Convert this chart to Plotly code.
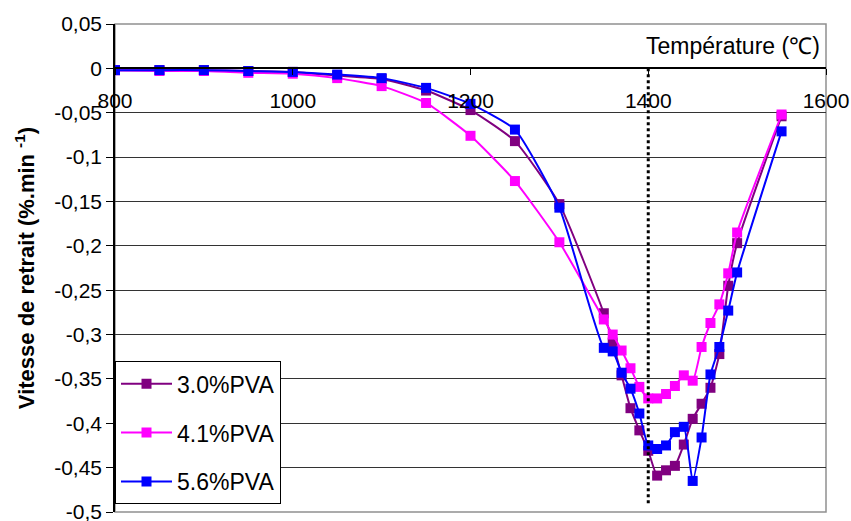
import plotly.graph_objects as go

# temperatures (°C)
temp = [800, 850, 900, 950, 1000, 1050, 1100, 1150, 1200, 1250, 1300,
        1350, 1360, 1370, 1380, 1390, 1400, 1410, 1420, 1430, 1440, 1450,
        1460, 1470, 1480, 1490, 1500, 1550]

# shrinkage rate (%.min-1)
pva_30 = [-0.002, -0.002, -0.002, -0.003, -0.004, -0.008, -0.012, -0.025, -0.047, -0.082, -0.153,
          -0.276, -0.309, -0.346, -0.383, -0.408, -0.431, -0.459, -0.453, -0.448, -0.424, -0.395,
          -0.378, -0.360, -0.322, -0.245, -0.197, -0.054]
pva_41 = [-0.002, -0.003, -0.003, -0.005, -0.006, -0.011, -0.020, -0.039, -0.076, -0.127, -0.196,
          -0.283, -0.300, -0.318, -0.338, -0.359, -0.372, -0.372, -0.367, -0.358, -0.346, -0.352,
          -0.314, -0.287, -0.266, -0.231, -0.185, -0.052]
pva_56 = [-0.002, -0.002, -0.002, -0.003, -0.004, -0.007, -0.011, -0.022, -0.040, -0.069, -0.157,
          -0.315, -0.319, -0.343, -0.361, -0.389, -0.425, -0.429, -0.425, -0.410, -0.404, -0.465,
          -0.416, -0.345, -0.314, -0.273, -0.230, -0.071]

names = ["3.0%PVA", "4.1%PVA", "5.6%PVA"]
colors = ["#800080", "#FF00FF", "#0000FF"]

y_ticks = [0.05, 0, -0.05, -0.1, -0.15, -0.2, -0.25, -0.3, -0.35, -0.4, -0.45, -0.5]
y_labels = ["0,05", "0", "-0,05", "-0,1", "-0,15", "-0,2", "-0,25", "-0,3", "-0,35", "-0,4", "-0,45", "-0,5"]

ref_temp = 1400
ref_bottom = -0.49

FONT = "Liberation Sans, Arial, sans-serif"

fig = go.Figure()
for i, series in enumerate([pva_30, pva_41, pva_56]):
    fig.add_trace(go.Scatter(
        x=temp, y=series, name=names[i], mode="lines+markers",
        line=dict(color=colors[i], width=2, shape="spline", smoothing=0.5),
        marker=dict(symbol="square", size=10, color=colors[i]),
        legendgroup=names[i],
    ))

# dotted reference line at 1400 °C
fig.add_shape(type="line", x0=ref_temp, x1=ref_temp, y0=0, y1=ref_bottom,
              line=dict(color="black", width=3, dash="dot"), layer="above")

# plot area border
fig.add_shape(type="rect", xref="paper", yref="paper", x0=0, x1=1, y0=0, y1=1,
              line=dict(color="#909090", width=1.5), layer="between")

fig.add_annotation(text="Température (℃)", xref="paper", yref="paper",
                   x=0.995, y=0.955, xanchor="right", yanchor="middle",
                   showarrow=False, font=dict(size=23, color="black", family=FONT))

fig.update_xaxes(range=[800, 1600], dtick=200, tick0=800,
                 anchor="free", position=0.5 / 0.55,
                 showline=True, linecolor="black", linewidth=1.5,
                 ticks="outside", ticklen=6, tickcolor="black",
                 ticklabelstandoff=8, automargin=False,
                 ticklabeloverflow="allow",
                 showgrid=False, zeroline=False,
                 tickfont=dict(size=21, color="black", family=FONT))

fig.update_yaxes(range=[-0.5, 0.05], tickvals=y_ticks, ticktext=y_labels,
                 showline=True, linecolor="black", linewidth=1.5,
                 ticks="outside", ticklen=7, tickcolor="black",
                 showgrid=True, gridcolor="#333333", gridwidth=1, zeroline=False,
                 automargin=False, ticklabeloverflow="allow",
                 tickfont=dict(size=21, color="black", family=FONT),
                 title=dict(text="<b>Vitesse de retrait (%.min <sup>-1</sup>)</b>",
                            font=dict(size=22, color="black", family=FONT),
                            standoff=13))

fig.update_layout(
    width=851, height=521,
    margin=dict(l=115, r=25, t=24, b=9, autoexpand=False),
    paper_bgcolor="white", plot_bgcolor="white",
    font=dict(family=FONT, color="black"),
    showlegend=True,
    legend=dict(x=0, y=0.309, xanchor="left", yanchor="top",
                bgcolor="white", bordercolor="black", borderwidth=1,
                font=dict(size=23, color="black", family=FONT),
                tracegroupgap=16, itemwidth=51,
                entrywidth=125, entrywidthmode="pixels",
                traceorder="grouped"),
)

fig.write_html("out.html", config={"displayModeBar": False},
               post_script="document.body.style.margin='0';")
